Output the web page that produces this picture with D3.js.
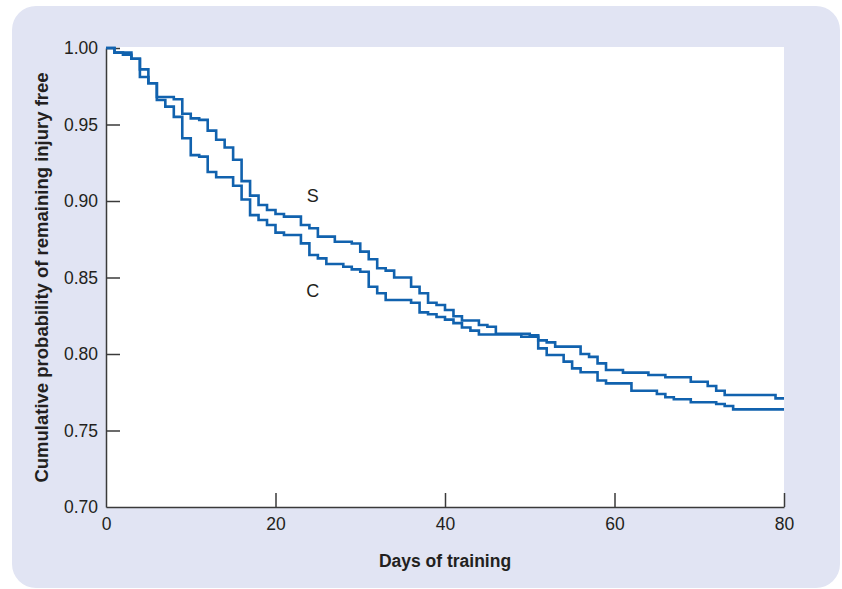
<!DOCTYPE html>
<html>
<head>
<meta charset="utf-8">
<script src="https://cdn.jsdelivr.net/npm/d3@7"></script>
<style>
  body { margin: 0; background: #fff; }
  svg text { font-family: "Liberation Sans", Arial, Helvetica, sans-serif; fill: #231f20; }
</style>
</head>
<body>
<svg id="chart" width="842" height="589"></svg>
<script>
// step points: day where the step happens, survival after it
var sDays = [0, 1, 3, 4, 5, 6, 8, 9, 10, 11, 12, 13, 14, 15, 16, 17, 18, 19, 20, 21, 23, 24, 25, 27, 29, 30, 31, 32, 33, 34, 36, 37, 38, 39, 40, 41, 42, 44, 45, 46, 50, 51, 52, 53, 56, 57, 58, 59, 61, 64, 66, 69, 71, 72, 73, 79, 80];
var sSurv = [1.000, 0.997, 0.993, 0.986, 0.977, 0.968, 0.9665, 0.957, 0.954, 0.953, 0.946, 0.940, 0.935, 0.927, 0.913, 0.9035, 0.8974, 0.8941, 0.8915, 0.8898, 0.8843, 0.8822, 0.8767, 0.8734, 0.8722, 0.8669, 0.8619, 0.856, 0.8545, 0.850, 0.844, 0.8397, 0.8335, 0.832, 0.8288, 0.8247, 0.8219, 0.819, 0.8178, 0.8132, 0.8122, 0.8089, 0.8076, 0.8048, 0.800, 0.7981, 0.7939, 0.7895, 0.7878, 0.7863, 0.7848, 0.7819, 0.7791, 0.776, 0.7732, 0.771, 0.771];

var cDays = [0, 1, 2, 3, 4, 5, 6, 7, 8, 9, 10, 11, 12, 13, 15, 16, 17, 18, 19, 20, 21, 23, 24, 25, 26, 28, 29, 30, 31, 32, 33, 36, 37, 38, 39, 40, 41, 42, 43, 44, 49, 51, 52, 54, 55, 56, 58, 59, 62, 65, 66, 67, 69, 72, 73, 74, 80];
var cSurv = [1.000, 0.997, 0.9956, 0.993, 0.981, 0.977, 0.966, 0.9617, 0.955, 0.941, 0.930, 0.929, 0.919, 0.9155, 0.910, 0.901, 0.8908, 0.8876, 0.8843, 0.8793, 0.8778, 0.8723, 0.8647, 0.8625, 0.8588, 0.857, 0.8553, 0.8538, 0.844, 0.8397, 0.8353, 0.8335, 0.8272, 0.826, 0.8242, 0.8225, 0.8202, 0.8173, 0.8153, 0.8127, 0.8113, 0.8037, 0.7993, 0.795, 0.7906, 0.7881, 0.7827, 0.7808, 0.776, 0.7739, 0.7717, 0.7704, 0.7685, 0.7673, 0.766, 0.7638, 0.7638];

var xTicks = [0, 20, 40, 60, 80];
var yTicks = [0.70, 0.75, 0.80, 0.85, 0.90, 0.95, 1.00];
var curveLabels = ["S", "C"];
var labelDays = [24.4, 24.4];
var labelSurv = [0.9035, 0.8413];

var svg = d3.select("#chart");

// lavender panel
svg.append("rect")
   .attr("x", 12).attr("y", 6)
   .attr("width", 828).attr("height", 582)
   .attr("rx", 24)
   .attr("fill", "#e1e4f3");

var x = d3.scaleLinear().domain([0, 80]).range([106, 784]);
var y = d3.scaleLinear().domain([0.70, 1.00]).range([507, 48]);

// white plot area
svg.append("rect")
   .attr("x", x(0)).attr("y", 47)
   .attr("width", x(80) - x(0)).attr("height", y(0.70) - 47)
   .attr("fill", "#fff");

var xAxis = svg.append("g")
   .attr("transform", "translate(0," + y(0.70) + ")")
   .call(d3.axisBottom(x).tickValues(xTicks).tickSizeInner(-14).tickSizeOuter(0).tickPadding(11).tickFormat(d3.format("d")));
var yAxis = svg.append("g")
   .attr("transform", "translate(" + x(0) + ",0)")
   .call(d3.axisLeft(y).tickValues(yTicks).tickSizeInner(-14).tickSizeOuter(0).tickPadding(8).tickFormat(d3.format(".2f")));

[xAxis, yAxis].forEach(function(g){
    g.selectAll("path, line").attr("stroke", "#3a3a3a").attr("stroke-width", 1.5);
    g.selectAll("text").style("font-size", "17.5px").attr("fill", "#231f20");
});
// the 0 and 0.70 ticks sit on the axis lines, hide them
xAxis.selectAll(".tick line").filter(function(d){ return d === 0; }).remove();
yAxis.selectAll(".tick line").filter(function(d){ return d === 0.70; }).remove();

var line = d3.line()
   .x(function(d){ return x(d[0]); })
   .y(function(d){ return y(d[1]); })
   .curve(d3.curveStepAfter);

var sData = sDays.map(function(d, i){ return [d, sSurv[i]]; });
var cData = cDays.map(function(d, i){ return [d, cSurv[i]]; });

svg.selectAll("path.km")
   .data([sData, cData])
   .enter()
   .append("path")
   .attr("class", "km")
   .attr("d", line)
   .attr("fill", "none")
   .attr("stroke", "#1162ae")
   .attr("stroke-width", 2.6);

svg.selectAll("text.lab")
   .data(curveLabels)
   .enter()
   .append("text")
   .attr("class", "lab")
   .attr("x", function(d, i){ return x(labelDays[i]); })
   .attr("y", function(d, i){ return y(labelSurv[i]); })
   .attr("text-anchor", "middle")
   .attr("dy", "0.35em")
   .style("font-size", "18px")
   .text(function(d){ return d; });

// axis titles
svg.append("text")
   .attr("x", (x(0) + x(80)) / 2)
   .attr("y", 567)
   .attr("text-anchor", "middle")
   .style("font-size", "17.5px")
   .style("font-weight", "bold")
   .text("Days of training");

svg.append("text")
   .attr("transform", "translate(48," + ((y(1) + y(0.7)) / 2) + ") rotate(-90)")
   .attr("text-anchor", "middle")
   .style("font-size", "18.5px")
   .style("font-weight", "bold")
   .text("Cumulative probability of remaining injury free");
</script>
</body>
</html>
